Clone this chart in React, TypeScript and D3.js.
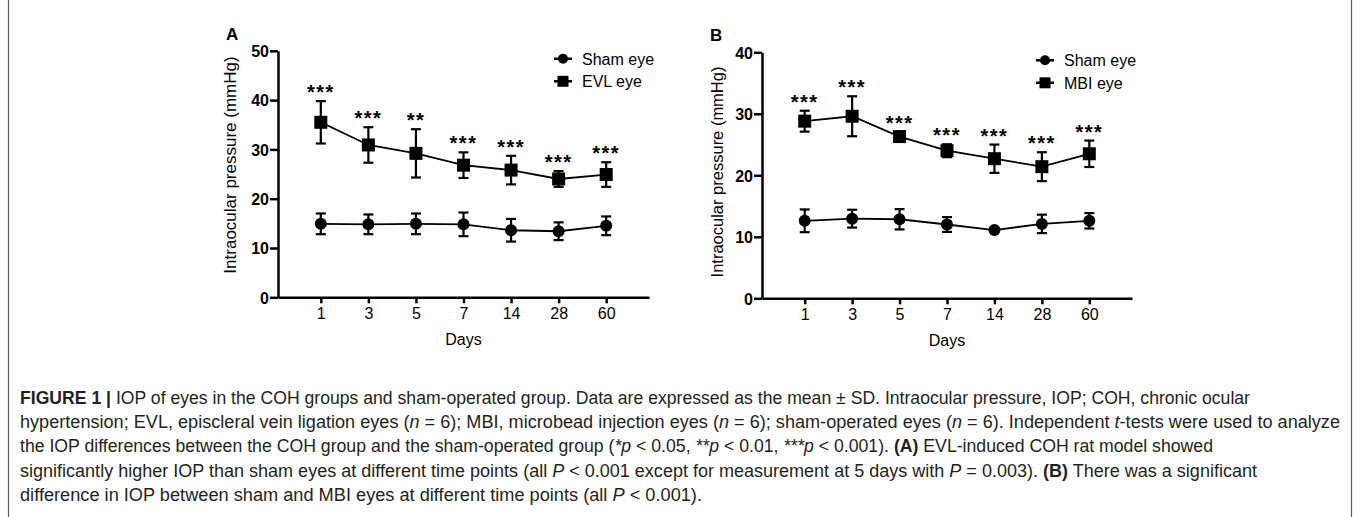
import * as d3 from 'd3';
import { useEffect, useRef } from 'react';

// time points (days after surgery)
const days = ['1', '3', '5', '7', '14', '28', '60'];

// panel A: sham vs EVL (mean, SD)
const shamAMean = [14.9, 14.8, 14.9, 14.8, 13.6, 13.4, 14.5];
const shamASd = [2.1, 2.0, 2.1, 2.4, 2.3, 1.8, 1.9];
const evlMean = [35.5, 30.9, 29.2, 26.8, 25.8, 24.0, 24.9];
const evlSd = [4.3, 3.6, 4.9, 2.6, 2.9, 1.6, 2.5];
const starsA = ['***', '***', '**', '***', '***', '***', '***'];
const ticksA = [0, 10, 20, 30, 40, 50];

// panel B: sham vs MBI (mean, SD)
const shamBMean = [12.6, 12.95, 12.85, 12.0, 11.1, 12.1, 12.6];
const shamBSd = [1.85, 1.45, 1.65, 1.2, 0.3, 1.5, 1.25];
const mbiMean = [28.8, 29.6, 26.3, 24.0, 22.7, 21.4, 23.5];
const mbiSd = [1.7, 3.25, 0.7, 1.05, 2.3, 2.35, 2.15];
const starsB = ['***', '***', '***', '***', '***', '***', '***'];
const ticksB = [0, 10, 20, 30, 40];

const FONT = "'Liberation Sans', Arial, Helvetica, sans-serif";

function Panel(props: any) {
  const { label, shamMean, shamSd, cohMean, cohSd, cohName, stars, ticks, x0, x1, yBottom, yTop, titleX, titleY, titleSize, legendX } = props;
  const gRef = useRef<SVGGElement>(null);

  useEffect(() => {
    const g = d3.select(gRef.current);
    g.selectAll('*').remove();

    const x = d3.scalePoint<string>().domain(days).range([x0, x1]).padding(0.9);
    const y = d3.scaleLinear().domain([0, ticks[ticks.length - 1]]).range([yBottom, yTop]);

    // axes
    const yAxis = g.append('g')
      .attr('transform', `translate(${x0},0)`)
      .call(d3.axisLeft(y).tickValues(ticks).tickSize(8).tickSizeOuter(0).tickPadding(1).tickFormat(d3.format('d')));
    yAxis.attr('font-family', FONT).attr('font-size', 16);
    yAxis.selectAll('path, line').attr('stroke', '#000').attr('stroke-width', 2.5);
    yAxis.selectAll('text').attr('font-weight', 'bold').attr('fill', '#000').attr('dy', '0.36em');

    const xAxis = g.append('g')
      .attr('transform', `translate(0,${yBottom})`)
      .call(d3.axisBottom(x).tickSize(6).tickSizeOuter(0).tickPadding(4));
    xAxis.attr('font-family', FONT).attr('font-size', 16);
    xAxis.selectAll('path, line').attr('stroke', '#000').attr('stroke-width', 2.5);
    xAxis.selectAll('text').attr('fill', '#000');

    g.append('text')
      .attr('x', (x0 + x1) / 2)
      .attr('y', yBottom + 48)
      .attr('text-anchor', 'middle')
      .attr('font-family', FONT)
      .attr('font-size', 16)
      .text('Days');

    g.append('text')
      .attr('transform', `translate(${titleX},${titleY}) rotate(-90)`)
      .attr('text-anchor', 'middle')
      .attr('font-family', FONT)
      .attr('font-size', titleSize)
      .text('Intraocular pressure (mmHg)');

    g.append('text')
      .attr('x', x0 - 52)
      .attr('y', yTop - 11)
      .attr('font-family', FONT)
      .attr('font-size', 17)
      .attr('font-weight', 'bold')
      .text(label);

    // series
    const drawSeries = (mean: number[], sd: number[], shape: string) => {
      const pts = days.map((d, i) => ({ d, m: mean[i], s: sd[i] }));
      const line = d3.line<any>().x(p => x(p.d)!).y(p => y(p.m));
      g.append('path').datum(pts)
        .attr('d', line)
        .attr('fill', 'none')
        .attr('stroke', '#000')
        .attr('stroke-width', 1.8);

      const eb = g.append('g').attr('stroke', '#000').attr('stroke-width', 2.2);
      eb.selectAll('.v').data(pts).join('line')
        .attr('x1', p => x(p.d)!).attr('x2', p => x(p.d)!)
        .attr('y1', p => y(p.m - p.s)).attr('y2', p => y(p.m + p.s));
      eb.selectAll('.t').data(pts).join('line')
        .attr('x1', p => x(p.d)! - 5).attr('x2', p => x(p.d)! + 5)
        .attr('y1', p => y(p.m + p.s)).attr('y2', p => y(p.m + p.s));
      eb.selectAll('.b').data(pts).join('line')
        .attr('x1', p => x(p.d)! - 5).attr('x2', p => x(p.d)! + 5)
        .attr('y1', p => y(p.m - p.s)).attr('y2', p => y(p.m - p.s));

      if (shape === 'circle') {
        g.append('g').selectAll('circle').data(pts).join('circle')
          .attr('cx', p => x(p.d)!).attr('cy', p => y(p.m)).attr('r', 6).attr('fill', '#000');
      } else {
        g.append('g').selectAll('rect').data(pts).join('rect')
          .attr('x', p => x(p.d)! - 6.5).attr('y', p => y(p.m) - 6.5)
          .attr('width', 13).attr('height', 13).attr('fill', '#000');
      }
    };
    drawSeries(shamMean, shamSd, 'circle');
    drawSeries(cohMean, cohSd, 'square');

    // significance stars above COH error bars
    g.append('g').selectAll('text').data(days).join('text')
      .attr('x', d => x(d)!)
      .attr('y', (d, i) => y(cohMean[i] + cohSd[i]) - 2)
      .attr('text-anchor', 'middle')
      .attr('font-family', FONT)
      .attr('font-size', 20)
      .attr('font-weight', 'bold')
      .attr('letter-spacing', 1.5)
      .text((d, i) => stars[i]);

    // legend
    const legend = [{ name: 'Sham eye', shape: 'circle' }, { name: cohName, shape: 'square' }];
    const lg = g.append('g').attr('transform', `translate(${legendX},${yTop + 8})`);
    legend.forEach((l, i) => {
      const row = lg.append('g').attr('transform', `translate(0,${i * 22.5})`);
      row.append('line').attr('x1', -9).attr('x2', 9).attr('stroke', '#000').attr('stroke-width', 2.5);
      if (l.shape === 'circle') row.append('circle').attr('r', 5).attr('fill', '#000');
      else row.append('rect').attr('x', -5.5).attr('y', -5.5).attr('width', 11).attr('height', 11).attr('fill', '#000');
      row.append('text')
        .attr('x', 19)
        .attr('dy', '0.36em')
        .attr('font-family', FONT)
        .attr('font-size', 16)
        .text(l.name);
    });
  });

  return <g ref={gRef}></g>;
}

// caption lines: [text, style] segments
const caption: [string, string][][] = [
  [['FIGURE 1 | ', 'b'], ['IOP of eyes in the COH groups and sham-operated group. Data are expressed as the mean \u00b1  SD. Intraocular pressure, IOP; COH, chronic ocular', '']],
  [['hypertension; EVL, episcleral vein ligation eyes (', ''], ['n', 'i'], [' = 6); MBI, microbead injection eyes (', ''], ['n', 'i'], [' = 6); sham-operated eyes (', ''], ['n', 'i'], [' = 6). Independent ', ''], ['t', 'i'], ['-tests were used to analyze', '']],
  [['the IOP differences between the COH group and the sham-operated group (', ''], ['*p', 'i'], [' < 0.05, ', ''], ['**p', 'i'], [' < 0.01, ', ''], ['***p', 'i'], [' < 0.001). ', ''], ['(A)', 'b'], [' EVL-induced COH rat model showed', '']],
  [['significantly higher IOP than sham eyes at different time points (all ', ''], ['P', 'i'], [' < 0.001 except for measurement at 5 days with ', ''], ['P', 'i'], [' = 0.003). ', ''], ['(B)', 'b'], [' There was a significant', '']],
  [['difference in IOP between sham and MBI eyes at different time points (all ', ''], ['P', 'i'], [' < 0.001).', '']],
];
const captionWidths = [1230, 1320, 1193, 1237, 682];

export default function App() {
  return (
    <svg width={1360} height={517} style={{ position: 'absolute', left: 0, top: 0, background: '#fff' }}>
      <rect x={8.5} y={-2} width={1343} height={520} fill="none" stroke="#555" strokeWidth={1.2} />
      <Panel label="A" shamMean={shamAMean} shamSd={shamASd} cohMean={evlMean} cohSd={evlSd} cohName="EVL eye"
        stars={starsA} ticks={ticksA} x0={278} x1={649} yBottom={297.3} yTop={50.8}
        titleX={236} titleY={165} titleSize={17} legendX={563} />
      <Panel label="B" shamMean={shamBMean} shamSd={shamBSd} cohMean={mbiMean} cohSd={mbiSd} cohName="MBI eye"
        stars={starsB} ticks={ticksB} x0={762} x1={1132} yBottom={298.3} yTop={52.3}
        titleX={723} titleY={172} titleSize={16.5} legendX={1045} />
      <g fontFamily="'Liberation Sans Narrow', 'Liberation Sans', Arial, sans-serif" fontSize={17.5} fill="#231f20">
        {caption.map((line, li) => (
          <text key={li} x={20} y={404 + li * 24.2} textLength={captionWidths[li]} lengthAdjust="spacingAndGlyphs">
            {line.map(([t, s], si) => (
              <tspan key={si} fontWeight={s === 'b' ? 'bold' : 'normal'} fontStyle={s === 'i' ? 'italic' : 'normal'}>{t}</tspan>
            ))}
          </text>
        ))}
      </g>
    </svg>
  );
}
